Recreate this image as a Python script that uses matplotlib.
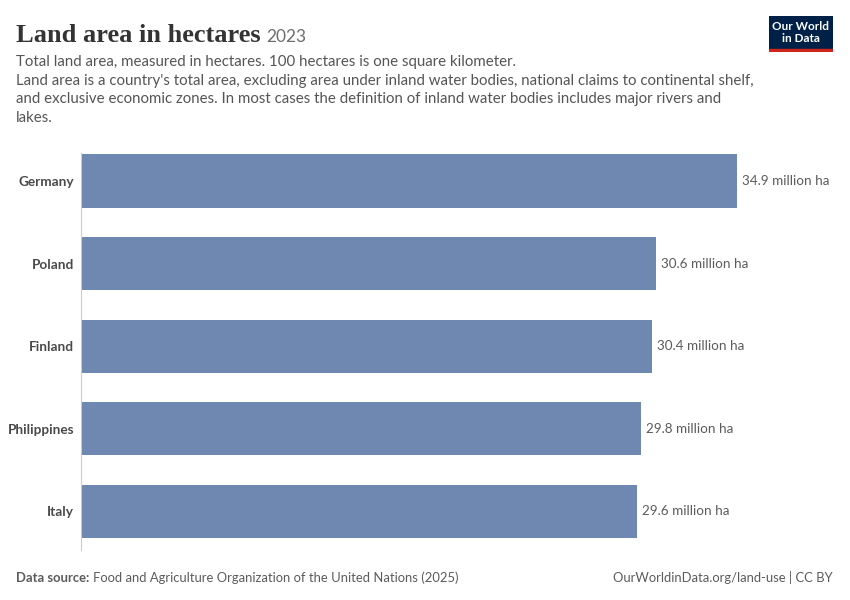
import matplotlib.pyplot as plt
from matplotlib.patches import Rectangle

countries = ["Germany", "Poland", "Finland", "Philippines", "Italy"]
values = [34.9, 30.6, 30.4, 29.8, 29.6]  # million hectares

title = "Land area in hectares"
year = "2023"
subtitle_lines = [
    "Total land area, measured in hectares. 100 hectares is one square kilometer.",
    "Land area is a country's total area, excluding area under inland water bodies, national claims to continental shelf,",
    "and exclusive economic zones. In most cases the definition of inland water bodies includes major rivers and",
    "lakes.",
]
source_text = "Food and Agriculture Organization of the United Nations (2025)"
url_text = "OurWorldinData.org/land-use | CC BY"

BAR_COLOR = "#6e88b1"
TEXT_GREY = "#5b5b5b"

plt.rcParams["font.family"] = ["Lato", "DejaVu Sans"]

fig = plt.figure(figsize=(8.5, 6), dpi=100)

ax = fig.add_axes([81 / 850, 1 - 550 / 600, (830 - 81) / 850, (550 - 153) / 600])
ypos = list(range(len(countries)))
ax.barh(ypos, values, height=0.645, color=BAR_COLOR)
for y, v in zip(ypos, values):
    ax.text(v + 0.27, y, f"{v} million ha", va="center", ha="left",
            fontsize=9.7, color=TEXT_GREY)

ax.set_xlim(0, (830 - 81) / (656 / 34.9))
ax.set_ylim(4.47, -0.34)
ax.set_yticks(ypos)
ax.set_yticklabels(countries, fontsize=9.8, color="#4a4a4a", fontweight="bold")
ax.tick_params(axis="y", length=0, pad=5)
ax.set_xticks([])
for side in ["top", "right", "bottom"]:
    ax.spines[side].set_visible(False)
ax.spines["left"].set_color("#cccccc")
ax.spines["left"].set_linewidth(0.8)

# title and subtitle
t = fig.text(16 / 850, 1 - 42 / 600, title, fontsize=19, fontweight="bold",
             family=["Liberation Serif", "DejaVu Serif"], color="#333333")
fig.canvas.draw()
bb = t.get_window_extent()
fig.text(bb.x1 / 850 + 6 / 850, 1 - 42 / 600, year, fontsize=12.5, color="#6e6e6e")

for i, line in enumerate(subtitle_lines):
    fig.text(16 / 850, 1 - (66 + i * 18.5) / 600, line, fontsize=10.8,
             color="#555555")

# logo
logo = fig.add_axes([769 / 850, 1 - 52 / 600, 64 / 850, 36 / 600])
logo.set_xlim(0, 64)
logo.set_ylim(36, 0)
logo.add_patch(Rectangle((0, 0), 64, 33, color="#002147"))
logo.add_patch(Rectangle((0, 33), 64, 3, color="#ce261e"))
logo.text(32, 10, "Our World", ha="center", va="center", color="white",
          fontsize=8.5, fontweight="bold")
logo.text(32, 23, "in Data", ha="center", va="center", color="white",
          fontsize=8.5, fontweight="bold")
logo.axis("off")

# footer
fig.text(16 / 850, 1 - 582 / 600, "Data source:", fontsize=9.4,
         fontweight="bold", color=TEXT_GREY)
src_label = fig.texts[-1]
fig.canvas.draw()
sb = src_label.get_window_extent()
fig.text(sb.x1 / 850 + 3.5 / 850, 1 - 582 / 600, source_text, fontsize=9.4,
         color=TEXT_GREY)
fig.text(833 / 850, 1 - 582 / 600, url_text, fontsize=9.4, color=TEXT_GREY,
         ha="right")

fig.savefig("out.png", dpi=100)
